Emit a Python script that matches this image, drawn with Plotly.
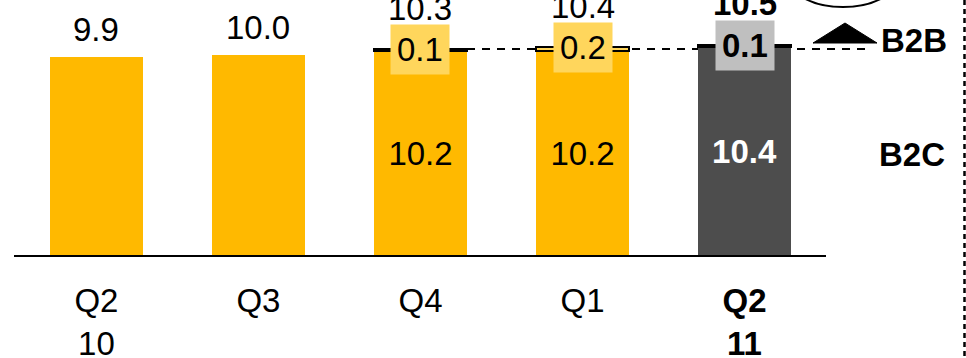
import plotly.graph_objects as go

# Quarterly revenue split, B2C + B2B
quarters = ["Q2 10", "Q3", "Q4", "Q1", "Q2 11"]
tick_labels = ["Q2<br>10", "Q3", "Q4", "Q1", "<b>Q2<br>11</b>"]
b2c = [9.9, 10.0, 10.2, 10.2, 10.4]
b2b = [None, None, 0.1, 0.2, 0.1]
totals = [9.9, 10.0, 10.3, 10.4, 10.5]

YELLOW = "#FFB900"
LIGHT_YELLOW = "#FFD65C"
DARK = "#4D4D4D"
LIGHT_GRAY = "#BFBFBF"
FONT = "Arial, Liberation Sans, sans-serif"
FS = 33

W, H = 966, 358
ML, MR, MT, MB = 14, 140, 0, 103
PW, PH = W - ML - MR, H - MT - MB


def px_x(px):
    return (px - ML) / PW


def px_y(py):
    return (H - MB - py) / PH


x = list(range(len(quarters)))
b2c_colors = [YELLOW] * 4 + [DARK]
b2b_colors = [LIGHT_YELLOW, LIGHT_YELLOW, LIGHT_YELLOW, LIGHT_YELLOW, LIGHT_GRAY]
inner_text = ["", "", "10.2", "10.2", "<b>10.4</b>"]
inner_colors = ["black"] * 4 + ["white"]

fig = go.Figure()
fig.add_trace(go.Bar(
    x=x, y=b2c, width=0.574, marker=dict(color=b2c_colors, line=dict(width=0)),
    text=inner_text, texttemplate="%{text}", textposition="inside",
    insidetextanchor="middle", textangle=0,
    insidetextfont=dict(family=FONT, size=FS, color=inner_colors),
    hoverinfo="skip", showlegend=False,
))
fig.add_trace(go.Bar(
    x=x, y=b2b, width=0.574,
    marker=dict(color=b2b_colors, line=dict(color="black", width=1.5)),
    hoverinfo="skip", showlegend=False,
))

annotations = []
for i, (tot, seg) in enumerate(zip(totals, b2b)):
    bold = i == len(quarters) - 1
    label = f"{tot:.1f}"
    if bold:
        label = f"<b>{label}</b>"
    if seg is None:
        annotations.append(dict(x=i, y=tot, xref="x", yref="y", text=label,
                                showarrow=False, yanchor="bottom", yshift=7,
                                font=dict(family=FONT, size=FS, color="black")))
    else:
        seg_txt = f"{seg:.1f}"
        if bold:
            seg_txt = f"<b>{seg_txt}</b>"
        annotations.append(dict(x=i, y=tot, xref="x", yref="y", text=seg_txt,
                                showarrow=False, yanchor="middle",
                                bgcolor=b2b_colors[i], borderpad=6,
                                font=dict(family=FONT, size=FS, color="black")))
        annotations.append(dict(x=i, y=tot, xref="x", yref="y", text=label,
                                showarrow=False, yanchor="bottom",
                                yshift=21 if bold else 20,
                                font=dict(family=FONT, size=FS, color="black")))

# Segment names on the right
annotations.append(dict(x=px_x(914), y=px_y(40), xref="paper", yref="paper",
                        text="<b>B2B</b>", showarrow=False, xanchor="center",
                        yanchor="middle", font=dict(family=FONT, size=FS, color="black")))
annotations.append(dict(x=px_x(912), y=px_y(154), xref="paper", yref="paper",
                        text="<b>B2C</b>", showarrow=False, xanchor="center",
                        yanchor="middle", font=dict(family=FONT, size=FS, color="black")))

shapes = [
    # reference level of Q4 total
    dict(type="line", xref="paper", yref="y", x0=px_x(467), x1=px_x(866),
         y0=totals[2], y1=totals[2], layer="below",
         line=dict(color="black", width=2, dash="8px,7px")),
    # growth marker
    dict(type="path", xref="paper", yref="paper",
         path=f"M {px_x(813)} {px_y(43)} L {px_x(845)} {px_y(23)} L {px_x(877)} {px_y(43)} Z",
         fillcolor="black", line=dict(color="black", width=1)),
    dict(type="circle", xref="paper", yref="paper",
         x0=px_x(789), x1=px_x(897), y0=px_y(-50), y1=px_y(7),
         line=dict(color="black", width=2)),
    # separator on the right
    dict(type="line", xref="paper", yref="paper", x0=px_x(964.5), x1=px_x(964.5),
         y0=px_y(0), y1=px_y(H), line=dict(color="black", width=2.5, dash="5px,4px")),
]

fig.update_layout(
    width=W, height=H, margin=dict(l=ML, r=MR, t=MT, b=MB, autoexpand=False),
    barmode="stack", plot_bgcolor="white", paper_bgcolor="white",
    font=dict(family=FONT, size=FS, color="black"),
    annotations=annotations, shapes=shapes,
    xaxis=dict(range=[-0.509, 4.503], tickvals=x, ticktext=tick_labels,
               showline=True, linecolor="black", linewidth=2, ticks="",
               showgrid=False, zeroline=False, ticklabelstandoff=15,
               automargin=False,
               tickfont=dict(family=FONT, size=FS, color="black")),
    yaxis=dict(range=[0, PH / 20], visible=False),
)

fig.write_html("out.html")
